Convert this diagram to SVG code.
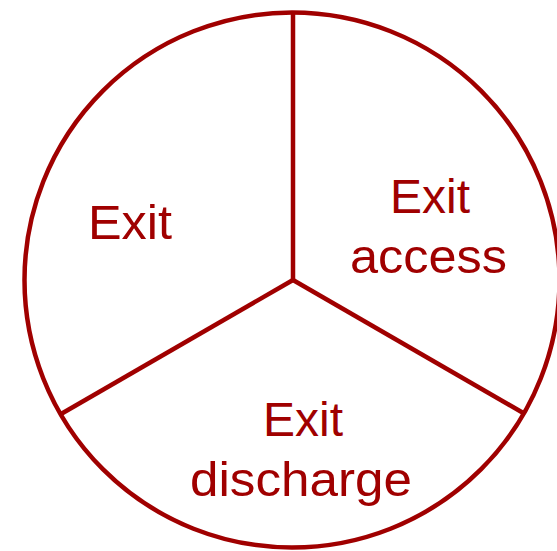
<svg xmlns="http://www.w3.org/2000/svg" width="557" height="551" viewBox="0 0 557 551">
<style>
.ln{fill:none;stroke:#A00000;stroke-width:4.5}
.t{font-family:"Liberation Sans",Arial,sans-serif;font-size:48px;fill:#A00000}
</style>
<rect width="557" height="551" fill="#fff"/>
<g id="circle"><circle class="ln" cx="292" cy="280" r="267.5"/></g>
<g id="connectors">
<line class="ln" x1="293" y1="280" x2="293" y2="12"/>
<line class="ln" x1="293" y1="280" x2="61" y2="414"/>
<line class="ln" x1="293" y1="280" x2="525" y2="414"/>
</g>
<g id="exit"><text class="t" x="88" y="239" textLength="84" lengthAdjust="spacingAndGlyphs">Exit</text></g>
<g id="exit-access">
<text class="t" x="390" y="213" textLength="80" lengthAdjust="spacingAndGlyphs">Exit</text>
<text class="t" x="350" y="273" textLength="157" lengthAdjust="spacingAndGlyphs">access</text>
</g>
<g id="exit-discharge">
<text class="t" x="263" y="436" textLength="80" lengthAdjust="spacingAndGlyphs">Exit</text>
<text class="t" x="190" y="496" textLength="222" lengthAdjust="spacingAndGlyphs">discharge</text>
</g>
</svg>
